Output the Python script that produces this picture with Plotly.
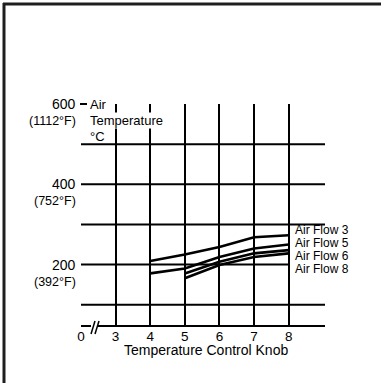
import plotly.graph_objects as go

# ---- data ----
knob_flow3 = [4, 5, 6, 7, 8]
temp_flow3 = [209, 225, 244, 268, 273]
knob_flow5 = [4, 5, 6, 7, 8]
temp_flow5 = [178, 190, 219, 240, 250]
knob_flow6 = [5, 6, 7, 8]
temp_flow6 = [178, 207, 228, 236]
knob_flow8 = [5, 6, 7, 8]
temp_flow8 = [166, 199, 219, 228]
series_names = ["Air Flow 3", "Air Flow 5", "Air Flow 6", "Air Flow 8"]

x_tick_vals = [2, 3, 4, 5, 6, 7, 8]
x_tick_text = ["0", "3", "4", "5", "6", "7", "8"]
y_label_vals = [600, 400, 200]
y_label_c = ["600", "400", "200"]
y_label_f = ["(1112°F)", "(752°F)", "(392°F)"]
h_grid_vals = [100, 200, 300, 400, 500]

X_MIN, X_MAX = 2, 9.05
Y_MIN, Y_MAX = 47, 600
W, H = 381, 383
ML, MR, MT, MB = 81, 56, 104, 57
PW, PH = W - ML - MR, H - MT - MB

FONT = "Liberation Sans, Arial, Helvetica, sans-serif"


def px_x(px):
    return (px - ML) / PW


def px_y(py):
    return (H - MB - py) / PH


fig = go.Figure()

series = [
    (knob_flow3, temp_flow3),
    (knob_flow5, temp_flow5),
    (knob_flow6, temp_flow6),
    (knob_flow8, temp_flow8),
]
for (xs, ys), name in zip(series, series_names):
    fig.add_trace(go.Scatter(x=xs, y=ys, mode="lines", name=name,
                             line=dict(color="black", width=2.6),
                             showlegend=False, hoverinfo="skip"))

shapes = []
# horizontal grid lines
for v in h_grid_vals:
    shapes.append(dict(type="line", xref="x", yref="y", x0=X_MIN,
                       x1=(8 if v == 200 else X_MAX), y0=v, y1=v,
                       line=dict(color="black", width=2), layer="below"))
# bottom axis with break
shapes.append(dict(type="line", xref="paper", yref="paper", x0=0, x1=px_x(91),
                   y0=0, y1=0, line=dict(color="black", width=2)))
shapes.append(dict(type="line", xref="paper", yref="paper", x0=px_x(97), x1=1,
                   y0=0, y1=0, line=dict(color="black", width=2)))
for bx in (91, 95):
    shapes.append(dict(type="line", xref="paper", yref="paper",
                       x0=px_x(bx), y0=px_y(334), x1=px_x(bx + 4), y1=px_y(321),
                       line=dict(color="black", width=1.5)))
# top tick of y axis
shapes.append(dict(type="line", xref="paper", yref="paper", x0=px_x(80), x1=px_x(87),
                   y0=1, y1=1, line=dict(color="black", width=2)))
# outer frame (top and left)
shapes.append(dict(type="line", xref="paper", yref="paper", x0=px_x(3), x1=px_x(381),
                   y0=px_y(4), y1=px_y(4), line=dict(color="#1e1e1e", width=3)))
shapes.append(dict(type="line", xref="paper", yref="paper", x0=px_x(4), x1=px_x(4),
                   y0=px_y(3), y1=px_y(383), line=dict(color="#1e1e1e", width=3)))

annotations = []
for v, c, f in zip(y_label_vals, y_label_c, y_label_f):
    annotations.append(dict(x=0, xref="paper", y=v, yref="y", text=c,
                            xanchor="right", yanchor="middle", xshift=-3,
                            showarrow=False, font=dict(size=14, color="black", family=FONT)))
    annotations.append(dict(x=0, xref="paper", y=v, yref="y", text=f,
                            xanchor="right", yanchor="middle", xshift=-3, yshift=-17,
                            showarrow=False, font=dict(size=12.5, color="black", family=FONT)))

# y axis title pieces
for txt, py, bg in (("Air", 104, None), ("Temperature", 120, "white"), ("°C", 136, None)):
    a = dict(x=px_x(89), xref="paper", y=px_y(py), yref="paper", text=txt,
             xanchor="left", yanchor="middle", showarrow=False, borderpad=0,
             font=dict(size=13, color="black", family=FONT))
    if bg:
        a["bgcolor"] = bg
    annotations.append(a)

# series labels
label_py = [230, 243, 256, 269]
for name, py in zip(series_names, label_py):
    annotations.append(dict(x=8, xref="x", y=px_y(py), yref="paper", text=name,
                            xanchor="left", yanchor="middle", xshift=5, borderpad=0,
                            showarrow=False, font=dict(size=12, color="black", family=FONT)))

# x axis title
annotations.append(dict(x=px_x(205.5), xref="paper", y=px_y(350), yref="paper",
                        text="Temperature Control Knob", xanchor="center", yanchor="middle",
                        showarrow=False, font=dict(size=14, color="black", family=FONT)))

fig.update_layout(
    width=W, height=H,
    margin=dict(l=ML, r=MR, t=MT, b=MB),
    paper_bgcolor="white", plot_bgcolor="white",
    shapes=shapes, annotations=annotations,
    xaxis=dict(range=[X_MIN, X_MAX], tickvals=x_tick_vals, ticktext=x_tick_text,
               showgrid=True, gridcolor="black", gridwidth=2, zeroline=False,
               showline=False, ticks="", tickfont=dict(size=13.5, color="black", family=FONT),
               fixedrange=True),
    yaxis=dict(range=[Y_MIN, Y_MAX], showgrid=False, zeroline=False, showline=False,
               showticklabels=False, ticks="", fixedrange=True),
)

fig.write_html("out.html", config={"displayModeBar": False},
               post_script="document.body.style.margin='0';document.body.style.overflow='hidden';")
